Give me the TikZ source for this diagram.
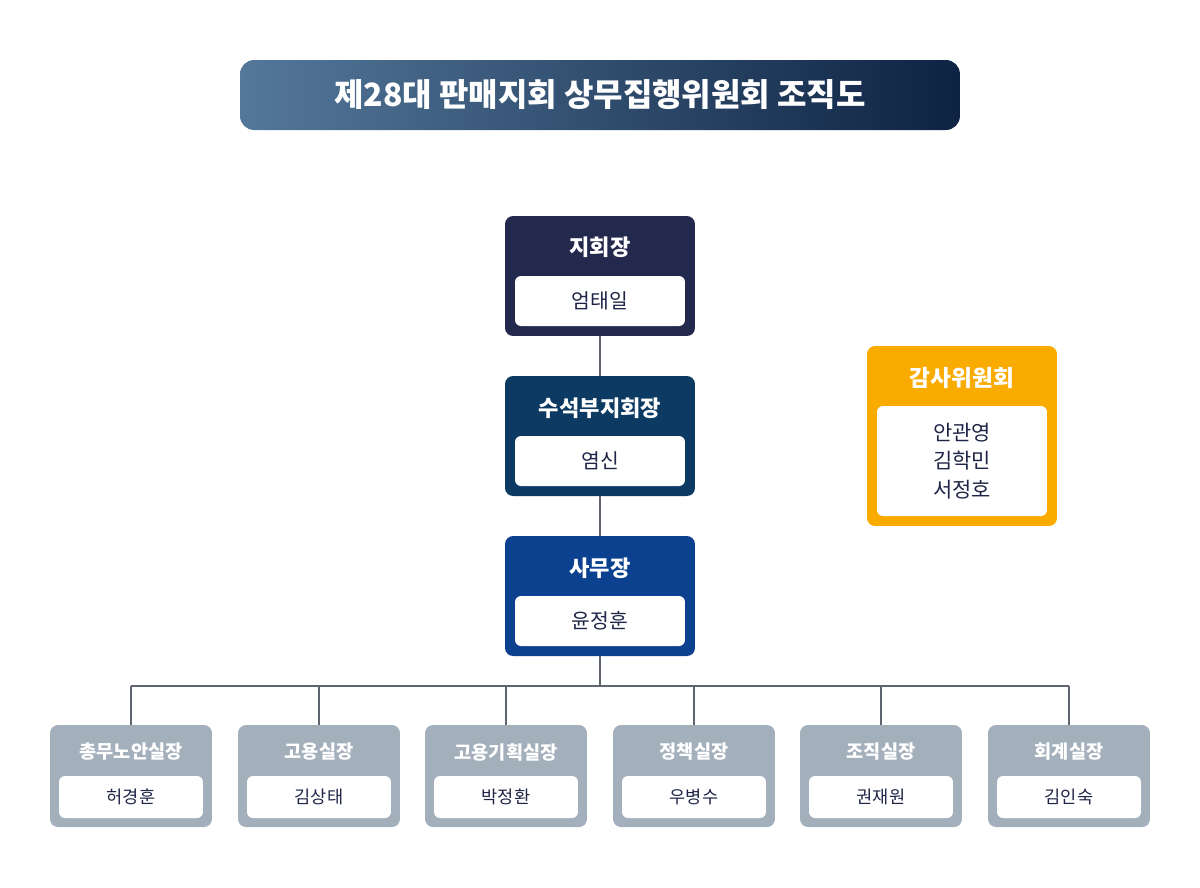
\documentclass[tikz,border=0pt]{standalone}
\usepackage{fontspec}
\setmainfont{Noto Sans CJK KR}
\definecolor{chiefcol}{HTML}{23284D}
\definecolor{vicecol}{HTML}{0C3A63}
\definecolor{seccol}{HTML}{0B418F}
\definecolor{auditcol}{HTML}{F9AB00}
\definecolor{deptcol}{HTML}{A4AFBC}
\definecolor{namecol}{HTML}{1F2547}
\definecolor{linecol}{HTML}{5F6671}
\definecolor{titleleft}{HTML}{54789A}
\definecolor{titleright}{HTML}{0E2343}

\begin{document}
\begin{tikzpicture}[x=0.02cm,y=-0.02cm,
    box/.style={rounded corners=0.16cm, minimum width=3.8cm, minimum height=2.4cm, inner sep=0pt},
    namebox/.style={fill=white, rounded corners=0.12cm, minimum width=3.4cm, minimum height=1cm, inner sep=0pt, text=namecol, font=\fontsize{11.6}{13}\selectfont},
    head/.style={text=white, font=\fontsize{12.6}{15}\selectfont\bfseries},
    deptbox/.style={fill=deptcol, rounded corners=0.16cm, minimum width=3.24cm, minimum height=2.04cm, inner sep=0pt},
    deptname/.style={fill=white, rounded corners=0.12cm, minimum width=2.88cm, minimum height=0.84cm, inner sep=0pt, text=namecol, font=\fontsize{10}{11}\selectfont},
    depthead/.style={text=white, font=\fontsize{10.6}{12}\selectfont\bfseries},
    link/.style={draw=linecol, line width=1.1pt}]
    \useasboundingbox (0,0) rectangle (1200,887);

    % title
    \node[rounded corners=0.28cm, left color=titleleft, right color=titleright, minimum width=14.4cm, minimum height=1.4cm, text=white, font=\fontsize{18.2}{22}\selectfont\bfseries] (title) at (600,95) {제28대 판매지회 상무집행위원회 조직도};

    % top line
    \node[box, fill=chiefcol] (chief) at (600,276) {};
    \node[head] (chief-t) at (600,247) {지회장};
    \node[namebox] (chief-n) at (600,301) {엄태일};

    \node[box, fill=vicecol] (vice) at (600,436) {};
    \node[head] (vice-t) at (600,408) {수석부지회장};
    \node[namebox] (vice-n) at (600,461) {염신};

    \node[box, fill=seccol] (sec) at (600,596) {};
    \node[head] (sec-t) at (600,568) {사무장};
    \node[namebox] (sec-n) at (600,621) {윤정훈};

    % audit
    \node[box, fill=auditcol, minimum height=3.6cm] (audit) at (962,436) {};
    \node[head, font=\fontsize{12.9}{15}\selectfont\bfseries] (audit-t) at (962,378) {감사위원회};
    \node[namebox, minimum height=2.2cm, align=center, font=\fontsize{11.9}{16.4}\selectfont] (audit-n) at (962,461) {안관영\\김학민\\서정호};

    % departments
    \foreach \i/\x/\t/\n in {1/131/총무노안실장/허경훈, 2/319/고용실장/김상태, 3/506/고용기획실장/박정환,
                             4/694/정책실장/우병수, 5/881/조직실장/권재원, 6/1069/회계실장/김인숙}{
        \node[deptbox] (d\i) at (\x,776) {};
        \node[depthead] (d\i-t) at (\x,752) {\t};
        \node[deptname] (d\i-n) at (\x,797) {\n};
    }

    % connectors
    \coordinate (bus) at (600,686);
    \draw[link] (chief.south) -- (vice.north);
    \draw[link] (vice.south) -- (sec.north);
    \draw[link] (sec.south) -- (bus);
    \draw[link] (bus -| d1) -- (bus -| d6);
    \foreach \i in {1,...,6}
        \draw[link] (bus -| d\i) -- (d\i.north);
\end{tikzpicture}
\end{document}
